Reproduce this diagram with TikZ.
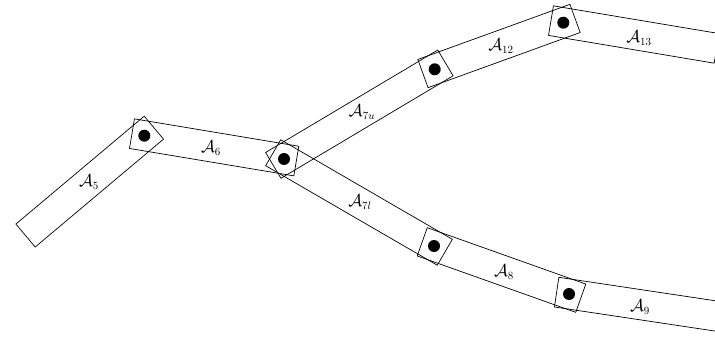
\documentclass[tikz,border=0pt]{standalone}
\usetikzlibrary{calc}
\newcommand{\ext}{12.5pt}
\newcommand{\hw}{15pt}
\newcommand{\linkbar}[2]{%
  \draw[barline] ($(#1)!-\ext!(#2)!\hw!90:(#2)$) -- ($(#1)!-\ext!(#2)!\hw!-90:(#2)$)
    -- ($(#2)!-\ext!(#1)!\hw!90:(#1)$) -- ($(#2)!-\ext!(#1)!\hw!-90:(#1)$) -- cycle;}
\tikzset{
  barline/.style={line width=0.7pt, line join=miter},
  jointdot/.style={circle, fill=black, inner sep=0pt, minimum size=12pt},
  lbl/.style={inner sep=0pt, font=\fontsize{16}{19}\selectfont}
}
\begin{document}
\begin{tikzpicture}[x=1pt,y=-1pt]
\useasboundingbox (0,0) rectangle (715,337);
\clip (0,0) rectangle (715,337);
\coordinate (J0) at (35.1,227.5);
\coordinate (J1) at (144.3,135.7);
\coordinate (J2) at (284,159);
\coordinate (J3) at (434.7,69.3);
\coordinate (J4) at (563.3,22.7);
\coordinate (J4e) at (704.3,46.3);
\coordinate (J5) at (434,246);
\coordinate (J6) at (569,294);
\coordinate (J6e) at (710.4,315.2);
\linkbar{J0}{J1}
\linkbar{J1}{J2}
\linkbar{J2}{J3}
\linkbar{J3}{J4}
\linkbar{J4}{J4e}
\linkbar{J2}{J5}
\linkbar{J5}{J6}
\linkbar{J6}{J6e}
\foreach \j in {J1,J2,J3,J4,J5,J6} \node[jointdot] (d\j) at (\j) {};
\node[lbl] (l5) at (89,182) {$\mathcal{A}_5$};
\node[lbl] (l6) at (211,148) {$\mathcal{A}_6$};
\node[lbl] (l7u) at (362,112) {$\mathcal{A}_{7u}$};
\node[lbl] (l7l) at (360,202) {$\mathcal{A}_{7l}$};
\node[lbl] (l12) at (501,46) {$\mathcal{A}_{12}$};
\node[lbl] (l13) at (639,38) {$\mathcal{A}_{13}$};
\node[lbl] (l8) at (504,272) {$\mathcal{A}_{8}$};
\node[lbl] (l9) at (640,307) {$\mathcal{A}_{9}$};
\end{tikzpicture}
\end{document}
